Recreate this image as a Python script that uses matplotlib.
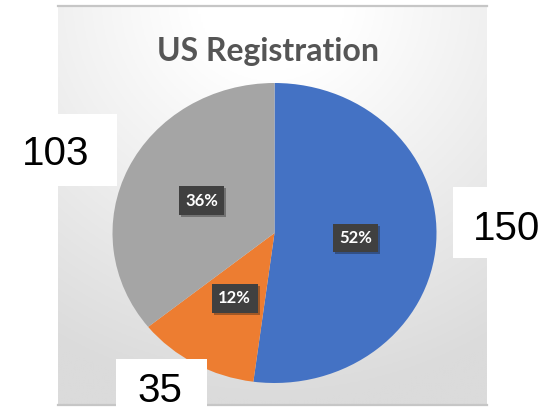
import numpy as np
import matplotlib
matplotlib.use('Agg')
import matplotlib.pyplot as plt
import matplotlib.patheffects as pe
from matplotlib.patches import Rectangle

# data
labels = ['Blue', 'Orange', 'Gray']
counts = [150, 35, 103]
colors = ['#4472C4', '#ED7D31', '#A5A5A5']

W, H = 553, 411


def px(x0, y0, x1, y1):
    # pixel box (top-left origin) -> figure fraction rect
    return [x0 / W, 1 - y1 / H, (x1 - x0) / W, (y1 - y0) / H]


fig = plt.figure(figsize=(W / 100, H / 100), dpi=100)

# panel background with soft gradient
bg = fig.add_axes(px(58, 6, 487, 406))
X, Y = np.meshgrid(np.linspace(58, 487, 200), np.linspace(6, 406, 200))
d = np.hypot((X - 272) / 420, Y / 400)
level = 255 - 36 * np.clip((d - 0.18) / 0.82, 0, 1)
img = np.dstack([level, level, level]) / 255
bg.imshow(img, extent=(0, 1, 0, 1), aspect='auto', origin='upper')
bg.set_xlim(0, 1)
bg.set_ylim(0, 1)
bg.axis('off')

# thin rules top and bottom
fig.add_artist(plt.Line2D([58 / W, 487 / W], [1 - 6 / H, 1 - 6 / H], color='#c6c6c6', lw=1.6))
fig.add_artist(plt.Line2D([58 / W, 487 / W], [1 - 405 / H, 1 - 405 / H], color='#c6c6c6', lw=1.6))

# title
fig.text(268 / W, 1 - 61 / H, 'US Registration', ha='center', va='baseline',
         fontsize=23, fontweight='bold', color='#555555', family='Lato')

# pie (slightly wider than tall, like the source)
cx, cy, rx, ry = 274.5, 233, 162, 150
ax = fig.add_axes(px(cx - 1.05 * rx, cy - 1.05 * ry, cx + 1.05 * rx, cy + 1.05 * ry))
ax.patch.set_alpha(0)
wedges, texts, autotexts = ax.pie(
    counts, colors=colors, startangle=90, counterclock=False,
    autopct=lambda p: f'{p:.0f}%', pctdistance=0.5,
    wedgeprops=dict(linewidth=0),
    textprops=dict(color='white', fontsize=12, fontweight='bold', family='Lato'))
ax.set_aspect('auto')
ax.set_xlim(-1.05, 1.05)
ax.set_ylim(-1.05, 1.05)
ax.axis('off')
for t in autotexts:
    t.set_bbox(dict(boxstyle='square,pad=0.38', fc='#404040', ec='none'))
    t.get_bbox_patch().set_path_effects([
        pe.SimplePatchShadow(offset=(1.5, -1.5), alpha=0.35), pe.Normal()])

# white boxes with counts pasted on top
boxes = [(453, 187, 553, 258), (116, 359, 207, 411), (0, 114, 117, 186)]
for (x0, y0, x1, y1), n in zip(boxes, counts):
    fig.add_artist(Rectangle((x0 / W, 1 - y1 / H), (x1 - x0) / W, (y1 - y0) / H,
                             transform=fig.transFigure, fc='white', ec='none', zorder=5))

text_pos = [(507, 240), (160, 402), (56, 165)]
for (x, y), n in zip(text_pos, counts):
    fig.text(x / W, 1 - y / H, str(n), ha='center', va='baseline', fontsize=29,
             family='Liberation Sans', color='black', zorder=6)

fig.savefig('out.png', dpi=100)
